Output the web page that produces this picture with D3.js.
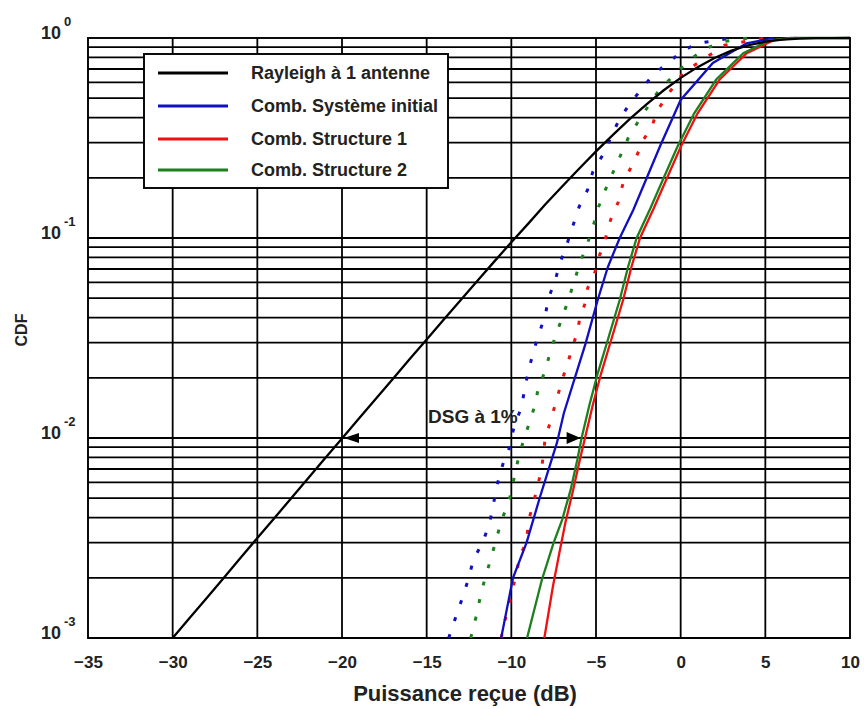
<!DOCTYPE html>
<html><head><meta charset="utf-8">
<script src="https://cdn.jsdelivr.net/npm/d3@7"></script>
<style>
html,body{margin:0;padding:0;background:#fff;}
text{font-family:"Liberation Sans",Arial,sans-serif;font-weight:bold;fill:#222;}
</style></head>
<body><svg id="c" width="864" height="709"></svg>
<script>
// ---------- data ----------
const xTicks = [-35,-30,-25,-20,-15,-10,-5,0,5,10];
const yDecades = [0,-1,-2,-3];

const rayleighDb  = [-30,-29,-28,-27,-26,-25,-24,-23,-22,-21,-20,-19,-18,-17,-16,-15,-14,-13,-12,-11,-10,-9,-8,-7,-6,-5,-4,-3,-2,-1,0,1,2,3,4,5,6,7,8,9,10];
const rayleighCdf = [0.00100,0.00126,0.00158,0.00199,0.00251,0.00316,0.00397,0.00500,0.00629,0.00791,0.00995,0.0125,0.0157,0.0197,0.0248,0.0311,0.0390,0.0489,0.0612,0.0764,0.0952,0.118,0.147,0.181,0.222,0.271,0.328,0.394,0.467,0.548,0.632,0.715,0.794,0.864,0.920,0.958,0.981,0.993,0.998,0.9995,1.0];

const blueDb  = [-10.6,-9.9,-9.1,-8.3,-7.3,-6.9,-5.6,-4.9,-4.3,-3.6,-2.8,-1.2,0,1.9,3.9,5.5];
const blueCdf = [0.001,0.002,0.003,0.0051,0.0095,0.0133,0.030,0.049,0.0716,0.1,0.138,0.29,0.49,0.75,0.94,1.0];

const redDb  = [-8.05,-7.55,-7.15,-6.8,-6.35,-5.95,-5.65,-5.2,-4.7,-4.1,-3.4,-2.9,-2.4,-1.6,-0.8,0,1.0,2.3,3.9,5.5,6.8];
const redCdf = [0.001,0.0018,0.0027,0.0038,0.0055,0.0078,0.01,0.0145,0.021,0.031,0.049,0.072,0.1,0.14,0.2,0.285,0.42,0.62,0.84,0.975,1.0];

const greenDb  = [-9.07,-8.2,-7.5,-7.0,-6.5,-6.1,-5.85,-5.4,-4.9,-4.3,-3.6,-3.1,-2.6,-1.8,-1.0,-0.2,0.8,2.1,3.7,5.2,6.5,10];
const greenCdf = [0.001,0.00195,0.003,0.0039,0.0055,0.0078,0.01,0.0145,0.021,0.031,0.049,0.072,0.1,0.14,0.2,0.285,0.42,0.62,0.84,0.97,1.0,1.0];

const blueDotDb  = [-13.7,-13.3,-12.9,-12.55,-12.25,-11.7,-11.3,-10.8,-10.5,-10.1,-9.85,-9.4,-9.2,-9.0,-8.7,-8.35,-8.0,-7.8,-7.4,-7.1,-6.7,-6.35,-6.0,-5.5,-5.2,-4.6,-3.7,-3.1,-2.35,-1.6,-0.75,0.15,1.15,3.0];
const blueDotCdf = [0.001,0.00126,0.00158,0.00195,0.00245,0.003,0.0037,0.006,0.0074,0.009,0.0113,0.0143,0.0178,0.0214,0.027,0.0336,0.041,0.05,0.062,0.076,0.094,0.116,0.143,0.174,0.213,0.26,0.38,0.457,0.55,0.66,0.75,0.87,0.944,1.0];

const greenDotDb  = [-12.4,-12.1,-11.85,-11.55,-11.2,-10.9,-10.6,-10.1,-9.6,-9.3,-8.6,-8.4,-8.0,-7.7,-7.3,-6.95,-6.6,-6.25,-5.95,-5.5,-5.15,-4.85,-4.45,-3.1,-2.45,-1.4,-0.5,0.4,1.3,2.35,4.0];
const greenDotCdf = [0.001,0.00126,0.00158,0.002,0.0025,0.0031,0.0038,0.005,0.0078,0.0096,0.0146,0.018,0.0216,0.027,0.034,0.041,0.05,0.062,0.075,0.094,0.116,0.143,0.174,0.316,0.39,0.53,0.64,0.76,0.87,0.955,1.0];

const redDotDb  = [-10.6,-10.4,-10.2,-9.65,-9.5,-9.1,-9.0,-8.5,-8.2,-8.0,-7.7,-7.5,-7.0,-6.7,-6.1,-5.95,-5.65,-5.5,-5.05,-4.85,-4.5,-4.3,-4.0,-3.7,-3.4,-2.6,-2.2,-1.7,-1.4,-0.9,0.15,1.0,2.6,5.0];
const redDotCdf = [0.001,0.0012,0.0014,0.0022,0.0026,0.003,0.0038,0.0055,0.0071,0.01,0.012,0.0138,0.0195,0.0233,0.034,0.04,0.047,0.056,0.068,0.08,0.094,0.112,0.133,0.15,0.188,0.257,0.31,0.36,0.43,0.5,0.67,0.75,0.92,1.0];

const legendLabels = ["Rayleigh à 1 antenne","Comb. Système initial","Comb. Structure 1","Comb. Structure 2"];
const legendColors = ["#000000","#1010c0","#ee1111","#1d7f1d"];

const dsgText = "DSG à 1%";
const dsgLevel = 0.01, dsgLeftDb = -20, dsgRightDb = -5.85;

// ---------- drawing ----------
const svg = d3.select("#c");
const L=88, R=850, T=38, B=638;
const x = d3.scaleLinear().domain([-35,10]).range([L,R]);
const y = d3.scaleLog().domain([1e-3,1]).range([B,T]);

// grid
const g = svg.append("g");
const hVals = [];
for (const e of [-3,-2,-1]) for (let k=1;k<=9;k++) hVals.push(k*Math.pow(10,e));
g.selectAll("line.h").data(hVals).join("line")
 .attr("x1",L).attr("x2",R).attr("y1",d=>y(d)).attr("y2",d=>y(d))
 .attr("stroke","#000").attr("stroke-width",1.8);
g.selectAll("line.v").data(xTicks.slice(1,-1)).join("line")
 .attr("x1",d=>x(d)).attr("x2",d=>x(d)).attr("y1",T).attr("y2",B)
 .attr("stroke","#000").attr("stroke-width",1.8);
g.append("rect").attr("x",L).attr("y",T).attr("width",R-L).attr("height",B-T)
 .attr("fill","none").attr("stroke","#000").attr("stroke-width",1.9);

// x axis labels
const xa = svg.append("g").attr("transform",`translate(0,${B})`)
 .call(d3.axisBottom(x).tickValues(xTicks).tickSize(0).tickPadding(18).tickFormat(d3.format("d")));
xa.select(".domain").remove();
xa.selectAll("text").attr("font-size",17).attr("font-family","Liberation Sans, Arial, sans-serif").attr("font-weight","bold").attr("fill","#222");

// y labels
const yl = svg.append("g");
yDecades.forEach(e=>{
  const yy = y(Math.pow(10,e));
  yl.append("text").attr("x",61).attr("y",yy+1).attr("text-anchor","end").attr("font-size",18).text("10");
  yl.append("text").attr("x",64).attr("y",yy-12).attr("font-size",13).text(String(e));
});

// axis titles
svg.append("text").attr("x",465).attr("y",701).attr("text-anchor","middle").attr("font-size",22).text("Puissance reçue (dB)");
svg.append("text").attr("transform","translate(27,330) rotate(-90)").attr("text-anchor","middle").attr("font-size",16).text("CDF");

// curves
const line = d3.line().x(d=>x(d[0])).y(d=>y(d[1]));
const zip = (a,b)=>a.map((v,i)=>[v,b[i]]);
const series = [
  {xs:blueDotDb, ys:blueDotCdf, c:legendColors[1], dash:"4,14"},
  {xs:greenDotDb,ys:greenDotCdf,c:legendColors[3], dash:"4,14"},
  {xs:redDotDb,  ys:redDotCdf,  c:legendColors[2], dash:"4,14"},
  {xs:blueDb,    ys:blueCdf,    c:legendColors[1], dash:null},
  {xs:redDb,     ys:redCdf,     c:legendColors[2], dash:null},
  {xs:greenDb,   ys:greenCdf,   c:legendColors[3], dash:null},
  {xs:rayleighDb,ys:rayleighCdf,c:legendColors[0], dash:null}
];
const cg = svg.append("g");
series.forEach(s=>{
  cg.append("path").datum(zip(s.xs,s.ys)).attr("d",line)
    .attr("fill","none").attr("stroke",s.c).attr("stroke-width",s.dash?3:2.3)
    .attr("stroke-dasharray",s.dash);
});

// legend
const lg = svg.append("g");
lg.append("rect").attr("x",144).attr("y",54).attr("width",304).attr("height",134)
  .attr("fill","#fff").attr("stroke","#000").attr("stroke-width",1.9);
const rowY = [73,106,139,170];
legendLabels.forEach((t,i)=>{
  lg.append("line").attr("x1",158).attr("x2",228).attr("y1",rowY[i]).attr("y2",rowY[i])
    .attr("stroke",legendColors[i]).attr("stroke-width",3);
  lg.append("text").attr("x",251).attr("y",rowY[i]+6).attr("font-size",18).text(t);
});

// annotation
svg.append("text").attr("x",428).attr("y",423).attr("font-size",19).text(dsgText);
const ay = y(dsgLevel);
const xl = x(dsgLeftDb), xr = x(dsgRightDb);
svg.append("path").attr("d",`M${xl+2},${ay} L${xl+17},${ay-5} L${xl+17},${ay+5} Z`).attr("fill","#000");
svg.append("path").attr("d",`M${xr-1},${ay} L${xr-15},${ay-6} L${xr-15},${ay+6} Z`).attr("fill","#000");
</script></body></html>
